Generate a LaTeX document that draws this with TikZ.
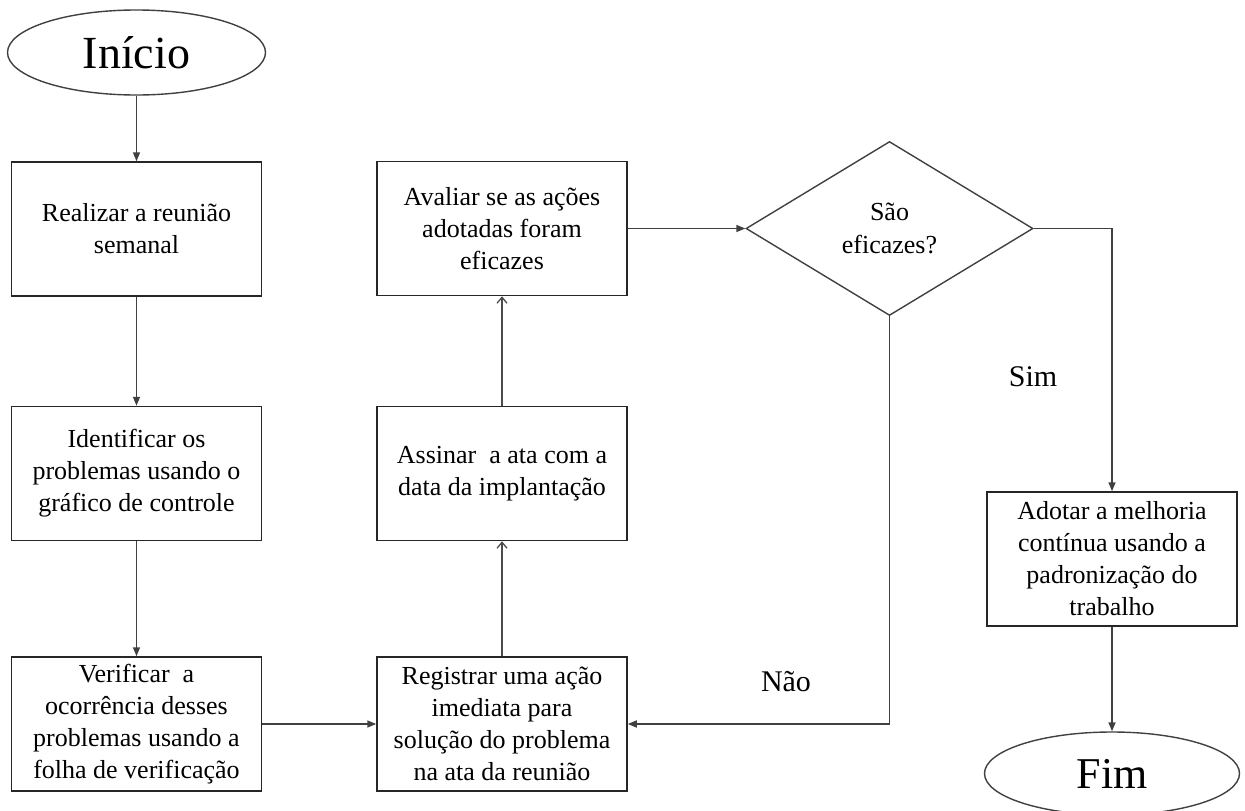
\documentclass[tikz,border=0pt]{standalone}
\usepackage{fontspec}
\setmainfont{Liberation Serif}
\usetikzlibrary{shapes.geometric,arrows.meta}
\begin{document}
\begin{tikzpicture}[x=1pt,y=-1pt,
  stepbox/.style={draw=black!85, line width=1.5pt, minimum width=250pt,
    minimum height=134pt, align=center, inner sep=2pt,
    font=\fontsize{26}{32}\selectfont},
  terminal/.style={ellipse, draw=black!75, line width=1.4pt, inner sep=0pt},
  flow/.style={draw=black!75, line width=1.5pt,
    -{Triangle[length=9pt,width=7pt]}},
  upflow/.style={draw=black!70, line width=1.3pt,
    -{Straight Barb[length=6pt,width=10pt]}},
  lbl/.style={font=\fontsize{30}{36}\selectfont}]
\useasboundingbox (0,0) rectangle (1245,811);

% start and end terminals
\node[terminal, minimum width=258pt, minimum height=85pt,
  font=\fontsize{46}{50}\selectfont] (inicio) at (136.5,52.5) {Início};
\node[terminal, minimum width=255pt, minimum height=83pt,
  font=\fontsize{44}{48}\selectfont] (fim) at (1112,773.5) {Fim};

% left column
\node[stepbox] (b1) at (136.5,229) {Realizar a reunião\\semanal};
\node[stepbox] (b2) at (136.5,473.5) {Identificar os\\problemas usando o\\gráfico de controle};
\node[stepbox] (b3) at (136.5,724) {Verificar~ a\\ocorrência desses\\problemas usando a\\folha de verificação};

% middle column
\node[stepbox] (b4) at (502,724) {Registrar uma ação\\imediata para\\solução do problema\\na ata da reunião};
\node[stepbox] (b5) at (502,473.5) {Assinar~ a ata com a\\data da implantação};
\node[stepbox] (b6) at (502,228.5) {Avaliar se as ações\\adotadas foram\\eficazes};

% decision
\node[diamond, draw=black!75, line width=1.4pt, aspect=1.65,
  minimum width=287pt, minimum height=174pt, inner sep=0pt, align=center,
  font=\fontsize{26}{33}\selectfont] (dia) at (889.5,228.5) {São\\eficazes?};

% right column
\node[stepbox] (b7) at (1112,559) {Adotar a melhoria\\contínua usando a\\padronização do\\trabalho};

% branch labels
\node[lbl] (nao) at (786,682) {Não};
\node[lbl] (sim) at (1033,377) {Sim};

% connectors
\draw[flow] (inicio.south) -- (b1.north);
\draw[flow] (b1.south) -- (b2.north);
\draw[flow] (b2.south) -- (b3.north);
\draw[flow] (b3.east) -- (b4.west);
\draw[upflow] (b4.north) -- (b5.south);
\draw[upflow] (b5.north) -- (b6.south);
\draw[flow] (b6.east) -- (dia.west);
\draw[flow] (dia.south) |- (b4.east);
\draw[flow] (dia.east) -| (b7.north);
\draw[flow] (b7.south) -- (fim.north);
\end{tikzpicture}
\end{document}
